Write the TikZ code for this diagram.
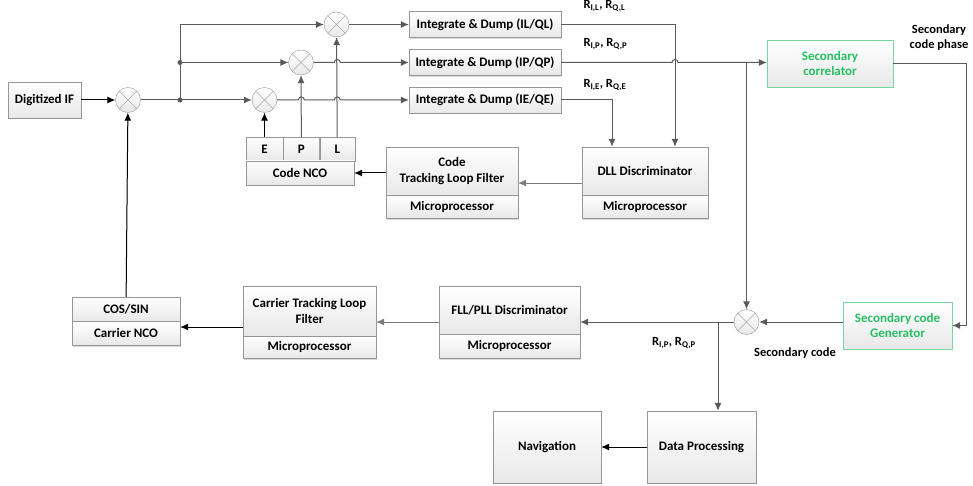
\documentclass[tikz,border=0pt]{standalone}
\usepackage{fontspec}
\setmainfont{Carlito}
\usetikzlibrary{
    arrows.meta,
    positioning,
    calc,
    shadows
}

\definecolor{linegray}{RGB}{90,90,90}
\definecolor{boxgray}{RGB}{150,150,150}
\definecolor{secgreen}{RGB}{40,190,100}
\definecolor{secborder}{RGB}{120,215,160}

\begin{document}
\begin{tikzpicture}[
    x=1pt, y=-1pt,
    font=\bfseries\fontsize{13}{15.5}\selectfont,
    blk/.style={
      draw=boxgray,
      top color=white,
      bottom color=black!9,
      drop shadow={shadow xshift=1.2pt, shadow yshift=-1.2pt, opacity=0.3},
      inner sep=1pt,
      align=center
    },
    secblk/.style={blk, draw=secborder, text=secgreen},
    mixer/.style={
      circle,
      draw=boxgray,
      top color=white,
      bottom color=black!9,
      minimum size=25,
      inner sep=0pt,
      path picture={
        \draw[boxgray!80] (path picture bounding box.north west) -- (path picture bounding box.south east)
          (path picture bounding box.north east) -- (path picture bounding box.south west);
      }
    },
    conn/.style={draw=linegray, line width=1pt, -{Latex[length=8pt,width=7pt]}},
    bconn/.style={conn, draw=black, fill=black},
    plain/.style={draw=linegray, line width=1pt},
    lbl/.style={font=\bfseries\fontsize{12.5}{15}\selectfont}
  ]

  \useasboundingbox (0,0) rectangle (973,486);

  % front end {{{
  \node[blk, minimum width=73, minimum height=36] (dif) at (44.5,100) {Digitized IF};
  \node[mixer] (m0) at (128,100) {};
  \node[mixer] (mE) at (264.5,100) {};
  \node[mixer] (mP) at (301,62.5) {};
  \node[mixer] (mL) at (336.5,24.5) {};
  \coordinate (b1) at (180,100);
  \coordinate (b2) at (180,62.5);
  \coordinate (b3) at (180,24.5);
  % }}}

  % code NCO {{{
  \node[blk, minimum width=37, minimum height=24] (cE) at (264.5,149) {E};
  \node[blk, minimum width=36, minimum height=24, right=0pt of cE] (cP) {P};
  \node[blk, minimum width=35, minimum height=24, right=0pt of cP] (cL) {L};
  \node[blk, minimum width=108, minimum height=24] (nco) at (300,173) {Code NCO};
  % }}}

  % integrate & dump {{{
  \node[blk, minimum width=152, minimum height=26] (idL) at (485,24.5) {Integrate \& Dump (IL/QL)};
  \node[blk, minimum width=152, minimum height=26] (idP) at (485,62.5) {Integrate \& Dump (IP/QP)};
  \node[blk, minimum width=152, minimum height=26] (idE) at (485,100) {Integrate \& Dump (IE/QE)};
  % }}}

  % code loop {{{
  \node[blk, minimum width=126, minimum height=48] (dll) at (645,171) {DLL Discriminator};
  \node[blk, minimum width=126, minimum height=23, below=0pt of dll] (dllmp) {Microprocessor};
  \node[blk, minimum width=132, minimum height=48] (ctlf) at (452,171) {Code\\Tracking Loop Filter};
  \node[blk, minimum width=132, minimum height=23, below=0pt of ctlf] (ctlfmp) {Microprocessor};
  % }}}

  % secondary code {{{
  \node[secblk, minimum width=126, minimum height=47] (corr) at (830,63.5) {Secondary\\correlator};
  \node[secblk, minimum width=109, minimum height=47] (gen) at (897.5,325.5) {Secondary code\\Generator};
  \node[mixer] (ms) at (746.5,322) {};
  \coordinate (cp) at (966.5,325.5);
  % }}}

  % carrier loop {{{
  \node[blk, minimum width=141, minimum height=48] (fll) at (509.5,310) {FLL/PLL Discriminator};
  \node[blk, minimum width=141, minimum height=24, below=0pt of fll] (fllmp) {Microprocessor};
  \node[blk, minimum width=133, minimum height=50] (cartlf) at (309.5,311) {Carrier Tracking Loop\\Filter};
  \node[blk, minimum width=133, minimum height=22, below=0pt of cartlf] (cartlfmp) {Microprocessor};
  \node[blk, minimum width=108, minimum height=24] (cos) at (126,309) {COS/SIN};
  \node[blk, minimum width=108, minimum height=24, below=0pt of cos] (carnco) {Carrier NCO};
  % }}}

  % data {{{
  \node[blk, minimum width=109, minimum height=72] (dp) at (701.5,447) {Data Processing};
  \node[blk, minimum width=108, minimum height=72] (nav) at (547,447) {Navigation};
  % }}}

  % labels {{{
  \node[lbl, anchor=west] (rL) at (580,6) {R\textsubscript{I,L}, R\textsubscript{Q,L}};
  \node[lbl, anchor=west] (rP) at (580,44) {R\textsubscript{I,P}, R\textsubscript{Q,P}};
  \node[lbl, anchor=west] (rE) at (580,85) {R\textsubscript{I,E}, R\textsubscript{Q,E}};
  \node[lbl, align=center] (phase) at (939,38) {Secondary\\code phase};
  \node[lbl] (rPs) at (674,343) {R\textsubscript{I,P}, R\textsubscript{Q,P}};
  \node[lbl] (seccode) at (795,353) {Secondary code};
  % }}}

  % connectors {{{
  \draw[bconn] (dif) -- (m0);
  \draw[conn] (m0) -- (mE);
  \draw[conn] (b1) -- (b2) -- (mP);
  \draw[plain] (b2) -- (b3);
  \draw[conn] (b3) -- (mL);
  \fill[linegray] (b1) circle (2.5pt) (b2) circle (2.5pt);

  \draw[bconn] (cE) -- (mE);
  \draw[conn] (cP) -- (mP);
  \draw[conn] (cL) -- (mL);

  \draw[conn] (mE) -- ($(cP.north |- mE)+(-3,0)$)
    arc[start angle=180, end angle=0, radius=3pt]
    -- ($(cL.north |- mE)+(-3,0)$)
    arc[start angle=180, end angle=0, radius=3pt]
    -- (idE);
  \draw[conn] (mP) -- ($(cL.north |- mP)+(-3,0)$)
    arc[start angle=180, end angle=0, radius=3pt]
    -- (idP);
  \draw[conn] (mL) -- (idL);

  \draw[conn] (idL.east) -| ([xshift=30pt]dll.north);
  \draw[conn] (idE.east) -| ([xshift=-33pt]dll.north);
  \coordinate (jP) at (ms |- idP);
  \draw[conn] (idP.east) -- ($([xshift=30pt]dll.north |- idP)+(-3,0)$)
    arc[start angle=180, end angle=0, radius=3pt]
    -- (corr.west |- idP);
  \draw[conn] (jP) -- (ms);

  \draw[conn, draw=linegray!80, line width=0.6pt] ([yshift=-12pt]dll.west) -- ([yshift=-12pt]ctlf.east);
  \draw[bconn] (ctlf.west |- nco) -- (nco);

  \draw[conn] (corr) -| (cp) -- (gen.east |- cp);
  \draw[conn] (gen.west |- ms) -- (ms);
  \coordinate (jD) at ([xshift=16.5pt]dp.north |- ms);
  \draw[conn] (ms) -- (fll.east |- ms);
  \draw[conn] (jD) -- ([xshift=16.5pt]dp.north);
  \draw[bconn] (dp) -- (nav);

  \draw[conn, draw=linegray!80, line width=0.6pt] (fll.west |- ms) -- (cartlf.east |- ms);
  \draw[bconn] (cartlf.west |- 0,327) -- (carnco.east |- 0,327);
  \draw[bconn] (cos) -- (m0);
  % }}}

\end{tikzpicture}
\end{document}
